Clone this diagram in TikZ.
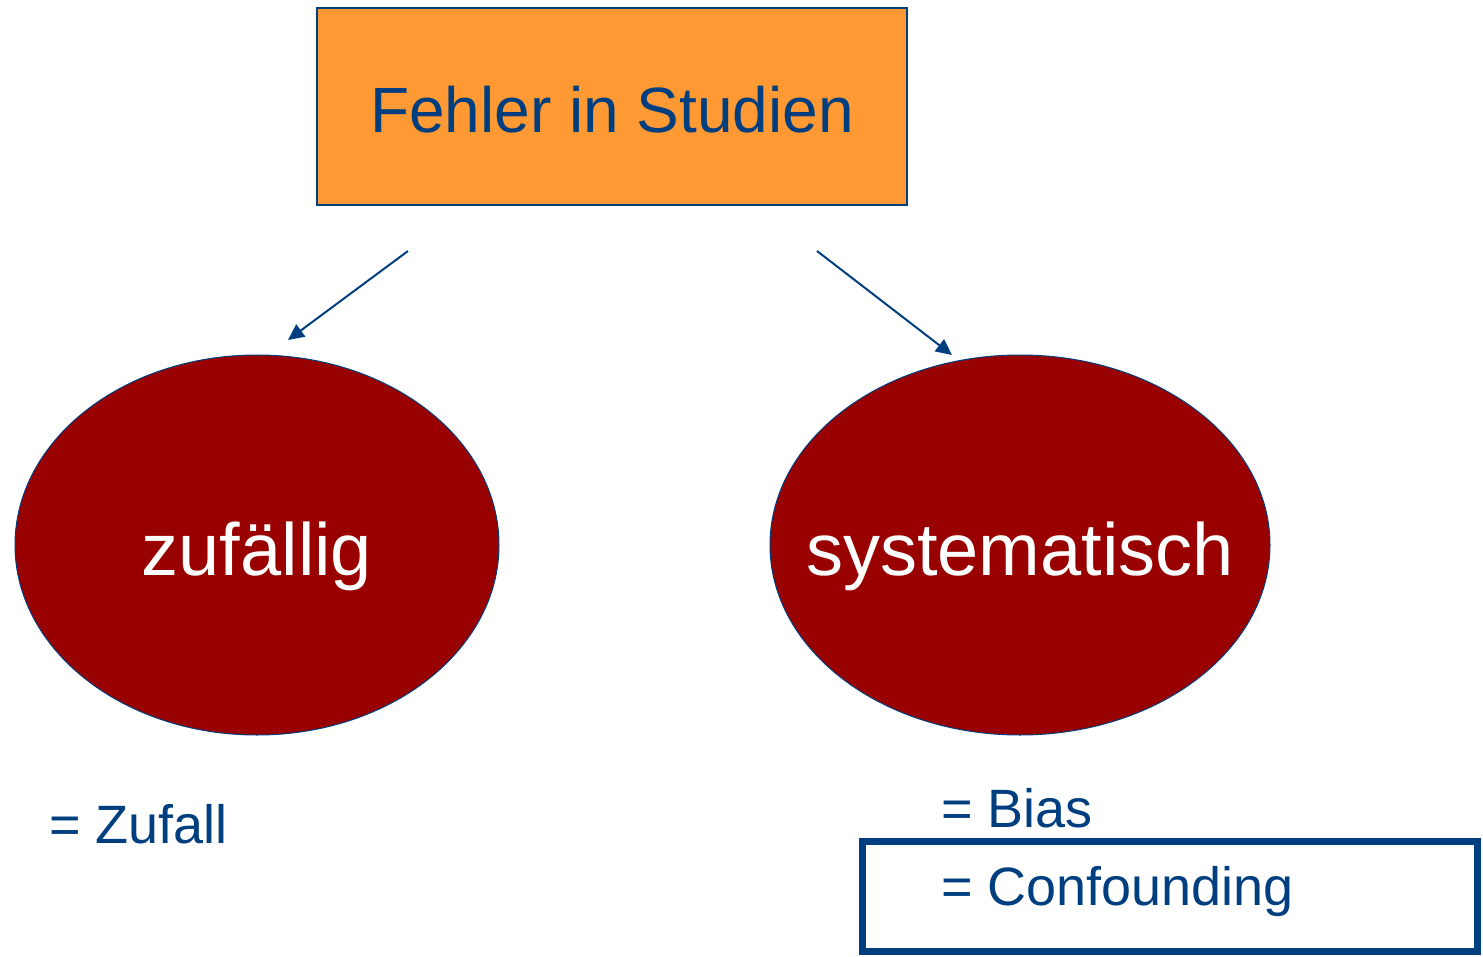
\documentclass[tikz,border=0pt]{standalone}
\usepackage{fontspec}
\setmainfont{Liberation Sans}
\usetikzlibrary{shapes.geometric,arrows.meta}
\definecolor{navy}{HTML}{003F7F}
\definecolor{orangefill}{HTML}{FF9933}
\definecolor{darkred}{HTML}{990000}
\tikzset{
  topbox/.style={draw=navy, line width=1.5pt, fill=orangefill, minimum width=590pt, minimum height=197pt, inner sep=0pt},
  blob/.style={ellipse, draw=navy, line width=1pt, fill=darkred, inner sep=0pt},
  blobtext/.style={text=white, font=\fontsize{74}{88}\selectfont, anchor=base, inner sep=0pt},
  note/.style={text=navy, font=\fontsize{54}{64}\selectfont, anchor=base west, inner sep=0pt},
  link/.style={draw=navy, line width=2pt, -{Triangle[length=16pt,width=15pt]}},
  framebox/.style={draw=navy, line width=7pt}
}
\begin{document}
\begin{tikzpicture}[x=1pt,y=-1pt]
\useasboundingbox (0,0) rectangle (1483,957);
% title box
\node[topbox] (top) at (612,106.5) {};
\node[text=navy, font=\fontsize{64}{76}\selectfont, anchor=base, inner sep=0pt] (title) at (612,133) {Fehler in Studien};
% two kinds of error
\node[blob, minimum width=484pt, minimum height=380pt] (rand) at (257,545) {};
\node[blobtext] (randtxt) at (257,575) {zufällig};
\node[blob, minimum width=500pt, minimum height=380pt] (sys) at (1020,545) {};
\node[blobtext] (systxt) at (1020,575) {systematisch};
% arrows from the title down to the two kinds
\coordinate (la) at (408,251);
\coordinate (lb) at (288,340);
\coordinate (ra) at (817,251);
\coordinate (rb) at (952,355);
\draw[link] (la) -- (lb);
\draw[link] (ra) -- (rb);
% explanations
\node[note] (zufall) at (49,843) {= Zufall};
\node[note] (bias) at (941,827) {= Bias};
\node[note] (conf) at (941,905) {= Confounding};
\draw[framebox] (862.5,841.5) rectangle (1477.5,951);
\end{tikzpicture}
\end{document}
